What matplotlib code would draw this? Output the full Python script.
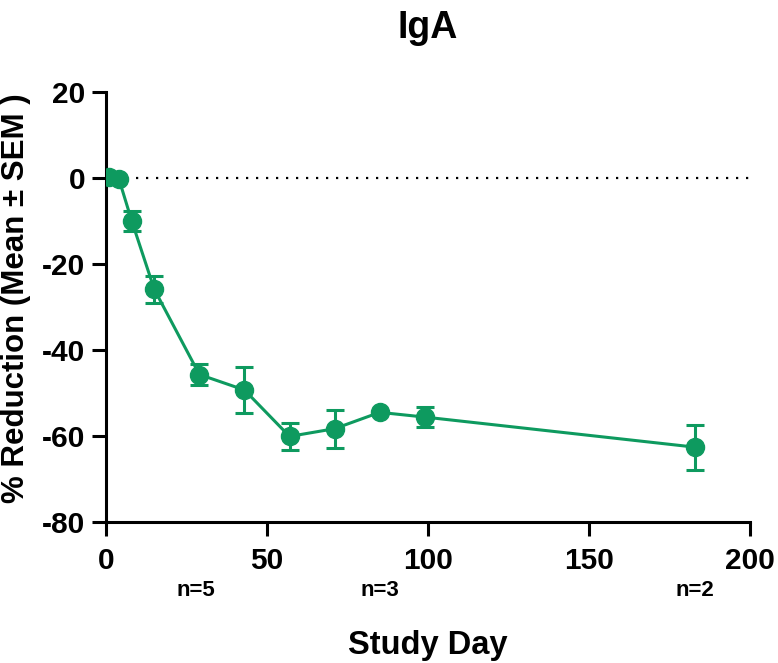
import matplotlib
matplotlib.use("Agg")
import matplotlib.pyplot as plt
import matplotlib.transforms as mtransforms

days = [1, 4, 8, 15, 29, 43, 57, 71, 85, 99, 183]
mean_reduction = [0.3, -0.2, -10.0, -25.9, -45.7, -49.3, -60.1, -58.3, -54.5, -55.6, -62.6]
sem = [0.0, 0.0, 2.3, 3.2, 2.5, 5.4, 3.2, 4.4, 0.0, 2.3, 5.2]
n_label_days = [28, 85, 183]
n_labels = ["n=5", "n=3", "n=2"]
x_ticks = [0, 50, 100, 150, 200]
y_ticks = [20, 0, -20, -40, -60, -80]

green = "#0E9A5F"
plt.rcParams['font.family'] = ['Liberation Sans', 'DejaVu Sans']
plt.rcParams['font.weight'] = 'bold'
plt.rcParams['axes.unicode_minus'] = False

fig = plt.figure(figsize=(7.78, 6.63), dpi=100)
ax = fig.add_axes([106/778, 1-522/663, (750-106)/778, (522-92)/663])

ax.axhline(0, color='black', linestyle=(0, (1, 3.5)), linewidth=1.6, zorder=1)
ax.errorbar(days, mean_reduction, yerr=sem, color=green, marker='o', markersize=13,
            linewidth=2.2, elinewidth=2.2, capsize=6.5, capthick=2.2, zorder=3)

ax.set_xlim(0, 200)
ax.set_ylim(-80, 20)
ax.set_xticks(x_ticks)
ax.set_yticks(y_ticks)
ax.spines['top'].set_visible(False)
ax.spines['right'].set_visible(False)
for s in ['left', 'bottom']:
    ax.spines[s].set_linewidth(2.2)
ax.tick_params(axis='both', width=2.2, length=10, labelsize=21.5)
ax.tick_params(axis='x', pad=8)
ax.tick_params(axis='y', pad=5)
for lbl in ax.get_xticklabels() + ax.get_yticklabels():
    lbl.set_fontweight('bold')

ax.set_title("IgA", fontsize=27, fontweight='bold', y=(522-38)/430, pad=0)
ax.set_ylabel("% Reduction (Mean \u00b1 SEM )", fontsize=22.5, fontweight='bold')
ax.yaxis.set_label_coords((31-106)/644, (522-298)/430)
ax.set_xlabel("Study Day", fontsize=23.5, fontweight='bold')
ax.xaxis.set_label_coords(0.5, (522-630)/430)

trans = mtransforms.blended_transform_factory(ax.transData, ax.transAxes)
for d, t in zip(n_label_days, n_labels):
    ax.text(d, (522-590)/430, t, transform=trans, ha='center', va='center',
            fontsize=16, fontweight='bold')

fig.savefig("out.png", dpi=100)
